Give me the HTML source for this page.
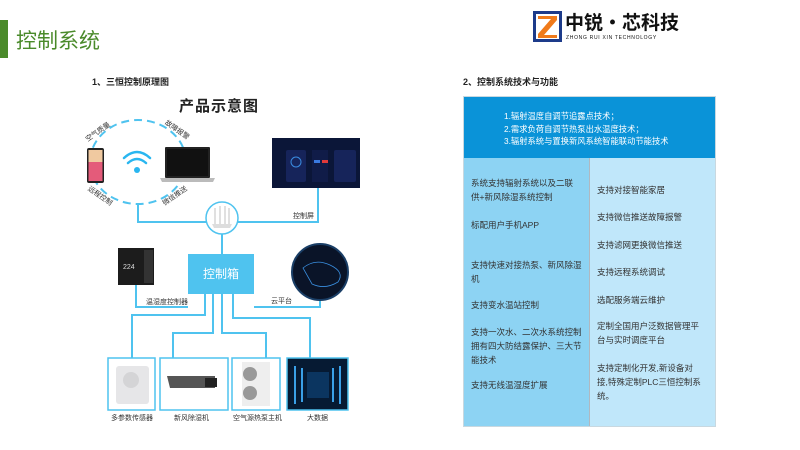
<!DOCTYPE html>
<html><head><meta charset="utf-8"><style>
*{margin:0;padding:0;box-sizing:border-box}
body{width:800px;height:450px;background:#fff;position:relative;overflow:hidden;font-family:"Liberation Sans","Noto Sans CJK SC",sans-serif}
.a{position:absolute;white-space:nowrap}
.s{font-size:7px;color:#333}
.panel p{position:absolute;font-size:8.5px;color:#333;line-height:14px}
</style></head><body>
<div class="a" style="left:0;top:20px;width:8px;height:38px;background:#4a8a2a"></div>
<div class="a" style="left:16px;top:25px;font-size:21px;color:#4a8a2a">控制系统</div>

<svg class="a" style="left:533px;top:11px" width="29" height="31" viewBox="0 0 29 31">
<rect x="0" y="0" width="29" height="31" fill="#1d3b8a"/>
<rect x="3" y="3" width="23" height="25" fill="#fff"/>
<path d="M5 5 H24 V9 L11 24 H24 V27 H5 V23 L18 8 H5Z" fill="#f07a1a"/>
</svg>
<div class="a" style="left:565px;top:9px;font-size:19px;font-weight:bold;color:#111;font-family:'Noto Sans CJK SC',sans-serif;line-height:26px">中锐·芯科技</div>
<div class="a" style="left:566px;top:35px;font-size:5px;color:#111;letter-spacing:0.7px">ZHONG RUI XIN TECHNOLOGY</div>

<div class="a" style="left:92px;top:75px;font-size:9px;font-weight:bold;color:#222">1、三恒控制原理图</div>
<div class="a" style="left:463px;top:75px;font-size:9px;font-weight:bold;color:#222">2、控制系统技术与功能</div>
<div class="a" style="left:179px;top:95px;font-size:15px;font-weight:bold;color:#222;letter-spacing:1px">产品示意图</div>

<svg class="a" style="left:0;top:0" width="460" height="450">
<g fill="none" stroke="#4fc3ef" stroke-width="2">
<ellipse cx="138" cy="162" rx="48" ry="42" stroke-dasharray="8 5"/>
<path d="M138 204 V222 H206"/>
<path d="M238 222 H318 V188"/>
<path d="M222 234 V254"/>
<path d="M136 285 V307 H188"/>
<path d="M254 307 H320 V300"/>
<path d="M205 294 V315 H132 V358"/>
<path d="M213 294 V333 H173 V358"/>
<path d="M222 294 V333 H266 V358"/>
<path d="M233 294 V318 H310 V358"/>
</g>
<circle cx="222" cy="218" r="16" fill="#fff" stroke="#4fc3ef" stroke-width="1.5"/>
<path d="M212 224 L232 224 L230 228 L214 228Z" fill="#ddd"/>
<path d="M215 224V208M220 224V206M225 224V206M229 224V208" stroke="#ccc" stroke-width="1.2"/>
<g fill="none" stroke="#29b6f0" stroke-width="2.5" stroke-linecap="round">
<path d="M124 158 Q137 146 150 158"/><path d="M128 163 Q137 155 146 163"/>
</g>
<circle cx="137" cy="170" r="3" fill="#29b6f0"/>
<rect x="87" y="148" width="17" height="35" rx="2" fill="#222"/>
<rect x="88.5" y="150" width="14" height="31" fill="#e45b7a"/>
<rect x="88.5" y="150" width="14" height="12" fill="#f0c9a0"/>
<rect x="165" y="147" width="45" height="31" rx="1" fill="#222"/>
<rect x="167" y="149" width="41" height="27" fill="#111"/>
<path d="M160 178 H215 L213 182 H162Z" fill="#bbb"/>
<rect x="272" y="138" width="88" height="50" fill="#0b1638"/>
<rect x="286" y="150" width="20" height="32" rx="2" fill="#16245a"/>
<rect x="312" y="150" width="16" height="32" fill="#101c48"/>
<rect x="334" y="150" width="22" height="32" rx="2" fill="#16245a"/>
<circle cx="296" cy="162" r="5" fill="none" stroke="#3a8be0"/>
<rect x="314" y="160" width="6" height="3" fill="#3a7ae0"/><rect x="322" y="160" width="6" height="3" fill="#e03a3a"/>
<rect x="118" y="248" width="36" height="37" fill="#1c1c1c"/>
<rect x="144" y="250" width="9" height="33" fill="#333"/>
<text x="123" y="269" font-size="7" fill="#ddd" font-family="Liberation Sans">224</text>
<circle cx="320" cy="272" r="28" fill="#0a1428" stroke="#1a3e66" stroke-width="2"/>
<path d="M303 268 Q315 258 330 265 T338 282 Q325 290 312 284Z" fill="none" stroke="#3a8fe0" stroke-width="0.8"/>
<rect x="108" y="358" width="47" height="52" fill="#fff" stroke="#4fc3ef" stroke-width="1.5"/>
<rect x="116" y="366" width="33" height="38" rx="3" fill="#e6e6e8"/>
<circle cx="131" cy="380" r="8" fill="#d4d4d6"/>
<rect x="160" y="358" width="68" height="52" fill="#fff" stroke="#4fc3ef" stroke-width="1.5"/>
<path d="M167 376 H215 V388 H170Z" fill="#555"/><rect x="205" y="378" width="12" height="9" fill="#222"/>
<rect x="232" y="358" width="48" height="52" fill="#fff" stroke="#4fc3ef" stroke-width="1.5"/>
<rect x="242" y="362" width="28" height="44" fill="#eee"/>
<circle cx="250" cy="374" r="7" fill="#999"/><circle cx="250" cy="393" r="7" fill="#999"/>
<rect x="287" y="358" width="61" height="52" fill="#061a33" stroke="#4fc3ef" stroke-width="1.5"/>
<path d="M295 366 V404 M302 368 V402 M333 368 V402 M340 366 V404" stroke="#3aa0e8" stroke-width="2"/>
<rect x="307" y="372" width="22" height="26" fill="#0b3560"/>
</svg>

<div class="a s" style="left:84px;top:127px;transform:rotate(-35deg)">空气质量</div>
<div class="a s" style="left:163px;top:125px;transform:rotate(35deg)">故障报警</div>
<div class="a s" style="left:86px;top:191px;transform:rotate(35deg)">远程控制</div>
<div class="a s" style="left:161px;top:191px;transform:rotate(-35deg)">微信推送</div>
<div class="a s" style="left:293px;top:211px">控制屏</div>
<div class="a s" style="left:146px;top:297px">温湿度控制器</div>
<div class="a s" style="left:271px;top:296px">云平台</div>
<div class="a" style="left:188px;top:254px;width:66px;height:40px;background:#4fc3ef;color:#fff;font-size:12px;line-height:40px;text-align:center">控制箱</div>
<div class="a s" style="left:111px;top:413px">多参数传感器</div>
<div class="a s" style="left:174px;top:413px">新风除湿机</div>
<div class="a s" style="left:233px;top:413px">空气源热泵主机</div>
<div class="a s" style="left:307px;top:413px">大数据</div>

<div class="a panel" style="left:463px;top:96px;width:253px;height:331px;border:1px solid #c8d8e0">
<div class="a" style="left:0;top:0;width:251px;height:61px;background:#0a93d8"></div>
<div class="a" style="left:0;top:61px;width:126px;height:268px;background:#8dd3f3;border-right:1px solid #b0b8c0"></div>
<div class="a" style="left:126px;top:61px;width:125px;height:268px;background:#c0e7fa"></div>
<p style="left:40px;top:13px;color:#fff;font-size:8.3px;line-height:12.5px">1.辐射温度自调节追露点技术；<br>2.需求负荷自调节热泵出水温度技术；<br>3.辐射系统与置换新风系统智能联动节能技术</p>
<p style="left:7px;top:79px">系统支持辐射系统以及二联<br>供+新风除湿系统控制</p>
<p style="left:7px;top:121px">标配用户手机APP</p>
<p style="left:7px;top:161px">支持快速对接热泵、新风除湿<br>机</p>
<p style="left:7px;top:201px">支持变水温站控制</p>
<p style="left:7px;top:228px">支持一次水、二次水系统控制<br>拥有四大防结露保护、三大节<br>能技术</p>
<p style="left:7px;top:281px">支持无线温湿度扩展</p>
<p style="left:133px;top:86px">支持对接智能家居</p>
<p style="left:133px;top:113px">支持微信推送故障报警</p>
<p style="left:133px;top:141px">支持滤网更换微信推送</p>
<p style="left:133px;top:168px">支持远程系统调试</p>
<p style="left:133px;top:196px">选配服务端云维护</p>
<p style="left:133px;top:222px">定制全国用户泛数据管理平<br>台与实时调度平台</p>
<p style="left:133px;top:264px">支持定制化开发,新设备对<br>接,特殊定制PLC三恒控制系<br>统。</p>
</div>
</body></html>
